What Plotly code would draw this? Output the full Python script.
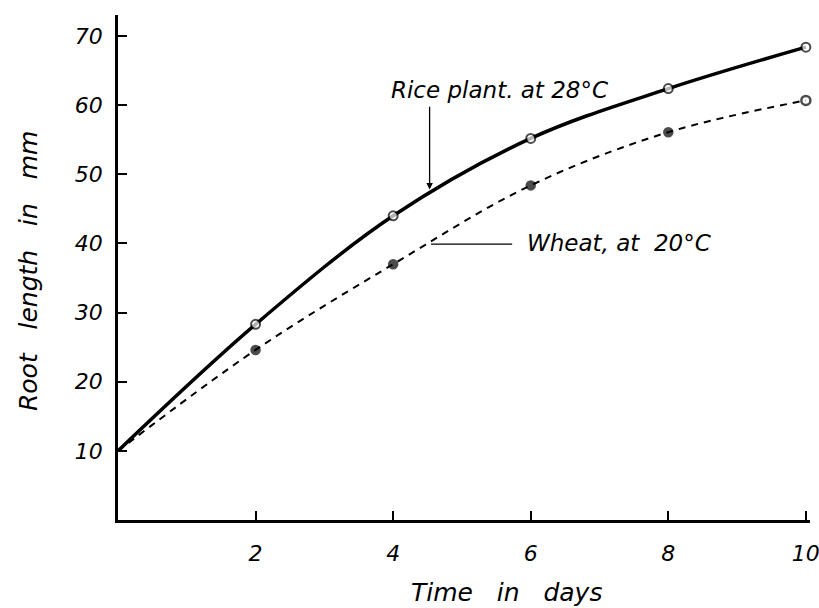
import plotly.graph_objects as go

days = [0, 2, 4, 6, 8, 10]
rice_mm = [10, 28.3, 44.0, 55.2, 62.4, 68.4]
wheat_mm = [10, 24.6, 37.0, 48.4, 56.1, 60.7]
x_ticks = [2, 4, 6, 8, 10]
y_ticks = [10, 20, 30, 40, 50, 60, 70]

rice_label = "Rice plant. at 28°C"
wheat_label = "Wheat, at\u00a0 20°C"
x_title = "Time\u00a0\u00a0\u00a0in\u00a0\u00a0\u00a0days"
y_title = "Root\u00a0\u00a0\u00a0length\u00a0\u00a0\u00a0in\u00a0\u00a0\u00a0mm"

FONT = "DejaVu Sans"
INK = "#000000"

fig = go.Figure()

fig.add_trace(go.Scatter(
    x=days, y=wheat_mm, mode="lines+markers", cliponaxis=False,
    line=dict(color=INK, width=2, dash="7px,6px", shape="spline", smoothing=1),
    marker=dict(size=[0, 8, 8, 8, 8, 9],
                symbol=["circle", "circle", "circle", "circle", "circle", "circle-open"],
                color=INK, line=dict(color=INK, width=2.5)),
    showlegend=False, hoverinfo="skip"))

fig.add_trace(go.Scatter(
    x=days, y=rice_mm, mode="lines+markers", cliponaxis=False,
    line=dict(color=INK, width=3.5, shape="spline", smoothing=1),
    marker=dict(size=[0, 9, 9, 9, 9, 9], symbol="circle",
                color="white", line=dict(color=INK, width=2)),
    showlegend=False, hoverinfo="skip"))

tick_font = dict(family=FONT, size=22, color=INK, style="italic")

fig.update_layout(
    width=819, height=608,
    margin=dict(l=118, r=9, t=15, b=88),
    paper_bgcolor="white", plot_bgcolor="white",
    showlegend=False,
    xaxis=dict(range=[0, 10.06], tickvals=x_ticks, ticktext=[str(v) for v in x_ticks],
               showgrid=False, zeroline=False, showline=True, linewidth=2.5, linecolor=INK,
               ticks="inside", ticklen=9, tickwidth=1.5, tickcolor=INK, automargin=False,
               tickfont=tick_font, ticklabelstandoff=12, ticklabeloverflow="allow"),
    yaxis=dict(range=[0, 73.05], tickvals=y_ticks, ticktext=[str(v) for v in y_ticks],
               showgrid=False, zeroline=False, showline=True, linewidth=2.5, linecolor=INK,
               ticks="inside", ticklen=9, tickwidth=1.5, tickcolor=INK, automargin=False,
               tickfont=tick_font, ticklabelstandoff=8),
)

# axis titles
fig.add_annotation(text=x_title, xref="paper", yref="paper", x=0.561, y=-0.1426,
                   xanchor="center", yanchor="middle", showarrow=False,
                   font=dict(family=FONT, size=25, color=INK, style="italic"))
fig.add_annotation(text=y_title, xref="paper", yref="paper", x=-0.130, y=0.493,
                   xanchor="center", yanchor="middle", showarrow=False, textangle=-90,
                   font=dict(family=FONT, size=25, color=INK, style="italic"))

# curve labels
fig.add_annotation(text=rice_label, x=5.55, y=62.2, xref="x", yref="y",
                   showarrow=False, xanchor="center", yanchor="middle",
                   font=dict(family=FONT, size=23, color=INK, style="italic"))
fig.add_annotation(text="", x=4.53, y=47.8, ax=4.53, ay=60.0, xref="x", yref="y",
                   axref="x", ayref="y", showarrow=True, arrowhead=2, arrowsize=1,
                   arrowwidth=1.3, arrowcolor=INK)
fig.add_shape(type="line", x0=4.55, x1=5.73, y0=39.9, y1=39.9, xref="x", yref="y",
              line=dict(color=INK, width=1.2))
fig.add_annotation(text=wheat_label, x=5.92, y=40.1, xref="x", yref="y",
                   showarrow=False, xanchor="left", yanchor="middle",
                   font=dict(family=FONT, size=23, color=INK, style="italic"))

fig.write_html("out.html", config={"displayModeBar": False},
               post_script="document.body.style.margin='0';document.body.style.overflow='hidden';")
